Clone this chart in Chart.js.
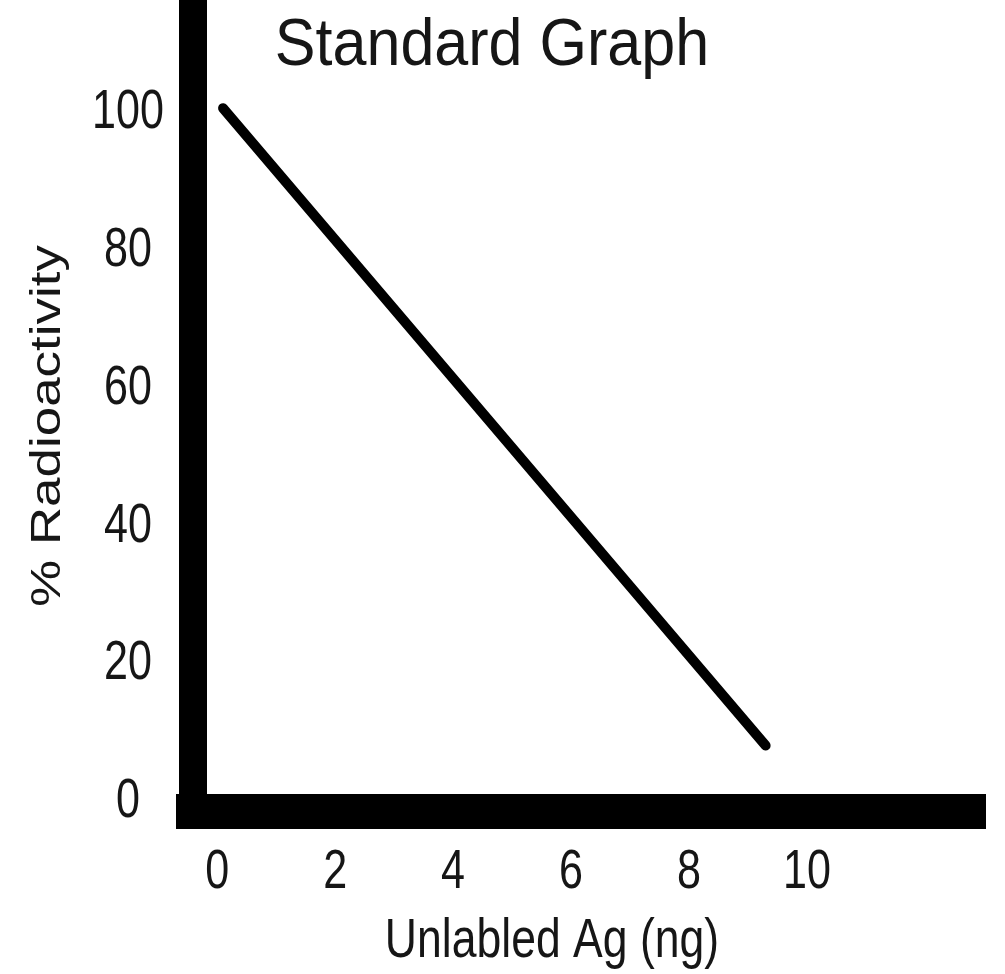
<!DOCTYPE html>
<html>
<head>
<meta charset="utf-8">
<title>Standard Graph</title>
<script src="https://cdn.jsdelivr.net/npm/chart.js@4.4.1/dist/chart.umd.min.js"></script>
<style>
  html, body { margin: 0; padding: 0; background: #fff; }
  canvas { display: block; }
</style>
</head>
<body>
<canvas id="standardChart" width="1005" height="974"></canvas>
<script>
const chartTitle = "Standard Graph";
const xTitle = "Unlabled Ag (ng)";
const yTitle = "% Radioactivity";

// standard curve (two ends of the drawn line)
const unlabeledAg = [0.1, 9.3];
const radioactivity = [100, 7.5];

const xTicks = [0, 2, 4, 6, 8, 10];
const yTicks = [0, 20, 40, 60, 80, 100];

const textColor = "#161616";
const textFont = "'Liberation Sans', Arial, sans-serif";

// the sketch's lettering is squeezed sideways (and the y title stretched),
// no narrow font is installed so the canvas is scaled instead
function stretchedText(ctx, text, x, y, size, stretch, angle) {
  ctx.save();
  ctx.translate(x, y);
  ctx.rotate(angle || 0);
  ctx.scale(stretch, 1);
  ctx.font = size + "px " + textFont;
  ctx.fillText(text, 0, 0);
  ctx.restore();
}

const drawLettering = {
  id: "drawLettering",
  afterDraw(chart) {
    const ctx = chart.ctx;
    const xScale = chart.scales.x;
    const yScale = chart.scales.y;
    ctx.save();
    ctx.fillStyle = textColor;
    ctx.textAlign = "center";
    ctx.textBaseline = "alphabetic";

    // tick labels, placed through the scales
    xTicks.forEach(v => {
      stretchedText(ctx, String(v), xScale.getPixelForValue(v), xScale.top + 77, 56, 0.77);
    });
    yTicks.forEach(v => {
      stretchedText(ctx, String(v), yScale.right - 65, yScale.getPixelForValue(v) + 20, 56, 0.77);
    });

    stretchedText(ctx, chartTitle, 492, 65, 66, 0.925);
    stretchedText(ctx, xTitle, 552, 957, 55, 0.81);
    stretchedText(ctx, yTitle, 60, 426, 42, 1.26, -Math.PI / 2);
    ctx.restore();
  }
};

new Chart(document.getElementById("standardChart"), {
  type: "scatter",
  data: {
    datasets: [{
      label: yTitle,
      data: unlabeledAg.map((x, i) => ({ x: x, y: radioactivity[i] })),
      showLine: true,
      borderColor: "#000",
      borderWidth: 10,
      borderCapStyle: "round",
      pointRadius: 0,
      pointHoverRadius: 0
    }]
  },
  plugins: [drawLettering],
  options: {
    responsive: false,
    animation: false,
    events: [],
    layout: { padding: { top: 0, right: 20, bottom: 0, left: 0 } },
    plugins: {
      legend: { display: false },
      tooltip: { enabled: false }
    },
    scales: {
      x: {
        type: "linear",
        min: -0.41,
        max: 13.02,
        grid: { display: false, drawTicks: false },
        border: { display: true, color: "#000", width: 35 },
        ticks: { display: false },
        afterBuildTicks: (scale) => { scale.ticks = xTicks.map(v => ({ value: v })); },
        afterFit: (scale) => {
          scale.height = 163;
          scale.paddingLeft = 0;
          scale.paddingRight = 0;
        }
      },
      y: {
        type: "linear",
        min: -2,
        max: 115.7,
        grid: { display: false, drawTicks: false },
        border: { display: true, color: "#000", width: 28 },
        ticks: { display: false },
        afterBuildTicks: (scale) => { scale.ticks = yTicks.map(v => ({ value: v })); },
        afterFit: (scale) => {
          scale.width = 193;
          scale.paddingTop = 0;
          scale.paddingBottom = 0;
        }
      }
    }
  }
});
</script>
</body>
</html>
